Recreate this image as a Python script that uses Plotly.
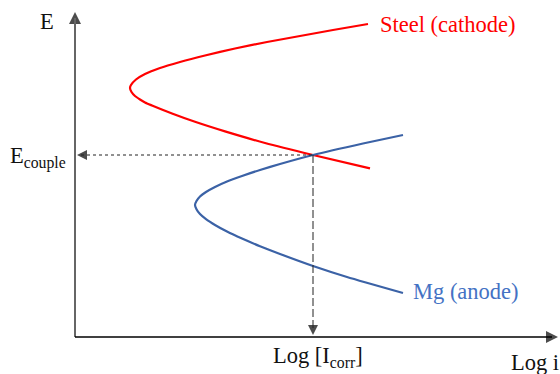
import plotly.graph_objects as go

# Data (log i in arbitrary units, E in arbitrary units; origin at axis corner)
steel_logi = [293, 258, 225, 192, 160, 130, 105, 85, 70, 61, 56, 55, 56.5, 60, 65, 70, 77, 97, 120, 150, 190, 238, 295]
steel_E    = [313, 307, 301, 295, 288.5, 281.5, 275, 269, 263, 257.5, 252, 249, 245, 241, 237.5, 234.5, 231.5, 223.5, 215.2, 205.6, 194, 182, 168.6]

mg_logi = [328, 288, 238, 205, 185, 167, 152, 140, 131, 125, 121.5, 120, 121.5, 125, 131, 140, 152, 167, 185, 205, 238, 272, 328]
mg_E    = [202, 193.5, 182, 173, 167, 161, 155.5, 150, 145, 140.5, 136, 132, 127.8, 122.9, 117.8, 112, 105.4, 98.4, 90.8, 83, 71, 60, 44]

E_couple = 182
logI_corr = 238

x_max, y_max = 483, 325

serif = "Liberation Serif, Times New Roman, serif"
red = "#ff0000"
blue_line = "#3b62a6"
blue_text = "#4472c4"
fs = 22.5

fig = go.Figure()

# axes lines
fig.add_shape(type="line", x0=0, y0=0, x1=0, y1=y_max - 6, line=dict(color="#666", width=2))
fig.add_shape(type="line", x0=0, y0=0, x1=x_max - 6, y1=0, line=dict(color="#000", width=1.7))

# dashed guide lines
fig.add_shape(type="line", x0=6, y0=E_couple, x1=logI_corr, y1=E_couple,
              line=dict(color="#222", width=1, dash="3px,3px"))
fig.add_shape(type="line", x0=logI_corr, y0=E_couple, x1=logI_corr, y1=6,
              line=dict(color="#222", width=1, dash="8px,3px"))

fig.add_trace(go.Scatter(x=steel_logi, y=steel_E, mode="lines",
                         line=dict(color=red, width=2.2, shape="spline", smoothing=0.6),
                         hoverinfo="skip", showlegend=False))
fig.add_trace(go.Scatter(x=mg_logi, y=mg_E, mode="lines",
                         line=dict(color=blue_line, width=2.2, shape="spline", smoothing=0.6),
                         hoverinfo="skip", showlegend=False))

# arrowheads
fig.add_trace(go.Scatter(
    x=[0, x_max, 2, logI_corr], y=[y_max, 0, E_couple, 2], mode="markers",
    marker=dict(symbol=["arrow-up", "arrow-right", "arrow-left", "arrow-down"],
                size=[12, 12, 10, 10], color=["#000", "#000", "#000", "#000"],
                line=dict(width=0)),
    hoverinfo="skip", showlegend=False, cliponaxis=False))

ann = []

def label(text, x, y, color="#111", size=fs, xanchor="center"):
    ann.append(dict(x=x, y=y, xref="x", yref="y", text=text, showarrow=False,
                    xanchor=xanchor, yanchor="middle",
                    font=dict(family=serif, size=size, color=color)))

label("E", -28, 316)
label("E<sub>couple</sub>", -37, 180)
label("Log [I<sub>corr</sub>]", logI_corr + 5, -20)
label("Log i", 460, -25)
label("Steel (cathode)", 373, 313, color=red)
label("Mg (anode)", 391, 46, color=blue_text)

fig.update_layout(
    width=560, height=374,
    margin=dict(l=0, r=0, t=0, b=0),
    paper_bgcolor="white", plot_bgcolor="white",
    xaxis=dict(range=[-75, 485], visible=False, fixedrange=True),
    yaxis=dict(range=[-37, 337], visible=False, fixedrange=True),
    annotations=ann,
    showlegend=False,
)

fig.write_html("out.html", config={"displayModeBar": False})
